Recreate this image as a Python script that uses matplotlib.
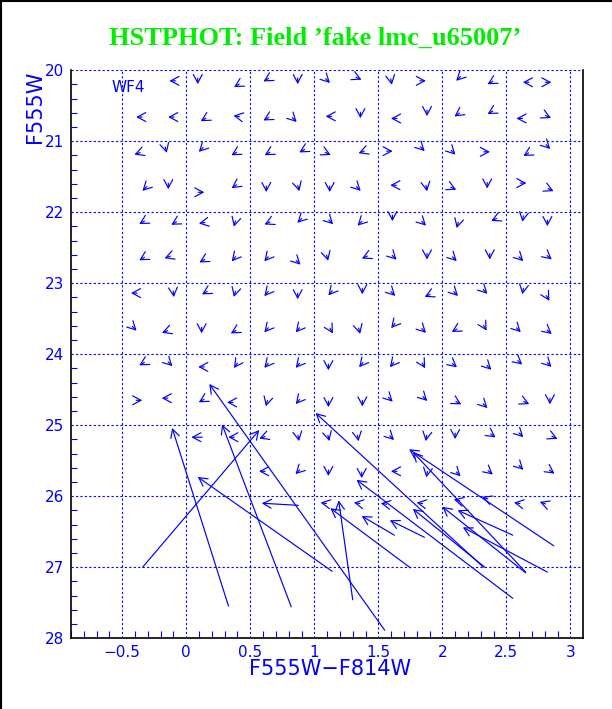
import numpy as np
import matplotlib
matplotlib.use("Agg")
import matplotlib.pyplot as plt
from matplotlib.patches import FancyArrowPatch
from matplotlib.lines import Line2D

BLUE = "#0000ff"
GREEN = "#00ee00"

# small residual vectors: position (colour, magnitude) and screen direction in degrees
small_x = [
    -0.10, 0.09, 0.40, 0.63, 0.87, 1.10, 1.34, 1.60, 1.84, 2.13, 2.38, 2.66, 2.82,
    -0.36, -0.11, 0.14, 0.40, 0.63, 0.84, 1.12, 1.36, 1.63, 1.88, 2.12, 2.38, 2.61, 2.82,
    -0.375, -0.16, 0.12, 0.38, 0.64, 0.91, 1.10, 1.375, 1.58, 1.84, 2.08, 2.34, 2.66, 2.82,
    -0.32, -0.14, 0.11, 0.38, 0.625, 0.875, 1.12, 1.34, 1.625, 1.875, 2.08, 2.35, 2.625, 2.84,
    -0.34, -0.09, 0.13, 0.38, 0.64, 0.89, 1.125, 1.36, 1.61, 1.85, 2.12, 2.41, 2.63, 2.82,
    -0.34, -0.14, 0.13, 0.375, 0.63, 0.87, 1.10, 1.40, 1.62, 1.88, 2.09, 2.37, 2.61, 2.83,
    -0.40, -0.10, 0.15, 0.38, 0.63, 0.87, 1.13, 1.375, 1.61, 1.89, 2.10, 2.33, 2.63, 2.82,
    -0.41, -0.16, 0.12, 0.375, 0.63, 0.875, 1.13, 1.35, 1.62, 1.85, 2.10, 2.33, 2.59, 2.83,
    -0.34, -0.13, 0.125, 0.39, 0.63, 0.875, 1.11, 1.37, 1.61, 1.85, 2.09, 2.36, 2.60, 2.83,
    -0.375, -0.16, 0.125, 0.35, 0.63, 0.875, 1.11, 1.375, 1.59, 1.86, 2.12, 2.33, 2.65, 2.84,
    0.36, 0.60, 0.875, 1.11, 1.34, 1.60, 1.875, 2.10, 2.39, 2.61, 2.87,
    0.60, 0.875, 1.11, 1.37, 1.63, 1.88, 2.12, 2.37, 2.61, 2.85,
    1.08, 1.34, 1.55, 1.83, 2.12, 2.34, 2.59, 2.79,
]
small_y = [
    20.15, 20.14, 20.21, 20.13, 20.14, 20.14, 20.11, 20.15, 20.15, 20.11, 20.17, 20.17, 20.17,
    20.66, 20.66, 20.69, 20.65, 20.68, 20.69, 20.65, 20.62, 20.68, 20.59, 20.62, 20.59, 20.68, 20.65,
    21.17, 21.11, 21.11, 21.17, 21.17, 21.13, 21.17, 21.15, 21.14, 21.10, 21.15, 21.15, 21.18, 21.07,
    21.66, 21.62, 21.72, 21.63, 21.66, 21.65, 21.66, 21.66, 21.62, 21.65, 21.66, 21.61, 21.59, 21.68,
    22.14, 22.15, 22.15, 22.15, 22.15, 22.11, 22.13, 22.15, 22.07, 22.15, 22.17, 22.10, 22.08, 22.14,
    22.65, 22.63, 22.68, 22.65, 22.65, 22.70, 22.63, 22.63, 22.63, 22.61, 22.65, 22.61, 22.65, 22.63,
    23.14, 23.14, 23.13, 23.14, 23.14, 23.17, 23.13, 23.10, 23.14, 23.17, 23.14, 23.11, 23.10, 23.20,
    23.63, 23.68, 23.65, 23.68, 23.65, 23.65, 23.66, 23.66, 23.59, 23.66, 23.66, 23.62, 23.65, 23.68,
    24.13, 24.13, 24.18, 24.15, 24.15, 24.15, 24.17, 24.14, 24.14, 24.15, 24.15, 24.18, 24.11, 24.14,
    24.65, 24.62, 24.65, 24.68, 24.68, 24.66, 24.69, 24.68, 24.63, 24.62, 24.68, 24.72, 24.68, 24.65,
    25.17, 25.17, 25.17, 25.17, 25.17, 25.17, 25.17, 25.14, 25.14, 25.13, 25.17,
    25.65, 25.65, 25.66, 25.69, 25.65, 25.68, 25.68, 25.66, 25.59, 25.65,
    26.10, 26.10, 26.11, 26.10, 26.06, 26.03, 26.10, 26.10,
]
small_dir = [
    180, 270, 210, 210, 270, 315, 335, 280, 0, 225, 210, 180, 0,
    180, 180, 210, 170, 210, 315, 180, 270, 180, 270, 215, 210, 180, 335,
    200, 285, 225, 210, 210, 210, 335, 200, 0, 315, 315, 0, 210, 315,
    225, 270, 0, 215, 270, 285, 270, 315, 180, 280, 335, 270, 0, 335,
    210, 210, 190, 255, 205, 225, 315, 225, 270, 315, 255, 205, 260, 270,
    210, 200, 210, 230, 230, 315, 285, 205, 315, 270, 315, 270, 315, 320,
    180, 275, 210, 255, 230, 270, 230, 270, 315, 205, 315, 315, 260, 300,
    315, 200, 270, 210, 230, 230, 300, 285, 230, 315, 210, 300, 315, 320,
    210, 315, 180, 235, 230, 230, 270, 230, 230, 300, 320, 315, 320, 315,
    0, 180, 210, 180, 255, 230, 270, 270, 315, 315, 330, 315, 335, 270,
    180, 200, 280, 285, 280, 315, 260, 270, 325, 315, 335,
    180, 225, 270, 270, 180, 260, 315, 320, 315, 325,
    170, 170, 170, 170, 165, 160, 170, 160,
]

# large residual vectors: (x0, y0) input star -> (x1, y1) recovered
big_x0 = [0.33, -0.34, 0.82, 1.14, 0.875, 1.55, 1.30, 2.87, 2.65, 2.55, 2.32, 1.75, 2.55, 2.82, 1.625, 1.86, 2.33, 2.65, 0.125]
big_y0 = [27.55, 27.00, 27.56, 27.06, 26.13, 27.89, 27.46, 26.70, 27.07, 27.44, 27.00, 27.01, 26.55, 27.07, 26.55, 26.58, 27.00, 27.08, 25.17]
big_x1 = [-0.11, 0.57, 0.28, 0.09, 0.59, 0.18, 1.19, 1.74, 1.77, 1.33, 1.01, 1.125, 2.12, 2.16, 1.37, 1.59, 1.77, 2.00, 0.04]
big_y1 = [25.04, 25.07, 24.99, 25.73, 26.10, 24.42, 26.06, 25.34, 25.38, 25.77, 24.83, 26.17, 26.20, 26.44, 26.28, 26.34, 26.18, 26.15, 25.17]

x_ticks = [-0.5, 0, 0.5, 1, 1.5, 2, 2.5, 3]
x_tick_labels = ["\u22120.5", "0", "0.5", "1", "1.5", "2", "2.5", "3"]
y_ticks = [20, 21, 22, 23, 24, 25, 26, 27, 28]

fig = plt.figure(figsize=(6.12, 7.09), dpi=100)
ax = fig.add_axes([0.116, 0.100, 0.837, 0.801])
ax.set_xlim(-0.9, 3.1)
ax.set_ylim(28, 20)

# pixel scale of the axes, used to turn screen directions into data offsets
px_x = 128.0
px_y = 71.0

arrow_kw = dict(arrowstyle="->,head_length=0.6,head_width=0.32", color=BLUE,
                lw=0.85, shrinkA=0, shrinkB=0, mutation_scale=10)

for x, y, d in zip(small_x, small_y, small_dir):
    a = np.deg2rad(d)
    ux, uy = np.cos(a) / px_x, -np.sin(a) / px_y
    # head is centred on the point: tip ahead by ~4 px, short 2 px shaft behind it
    tip = (x + 4.0 * ux, y + 4.0 * uy)
    tail = (tip[0] - 6.0 * ux, tip[1] - 6.0 * uy)
    ax.add_patch(FancyArrowPatch(tail, tip, **arrow_kw))

for x0, y0, x1, y1 in zip(big_x0, big_y0, big_x1, big_y1):
    ax.add_patch(FancyArrowPatch((x0, y0), (x1, y1), **arrow_kw))

ax.set_xticks(x_ticks)
ax.set_xticklabels(x_tick_labels)
ax.set_yticks(y_ticks)
ax.set_xticks(np.arange(-0.9, 3.1, 0.1), minor=True)
ax.set_yticks(np.arange(20, 28.01, 0.2), minor=True)
ax.tick_params(which="both", direction="in", colors=BLUE, labelcolor=BLUE,
               top=False, right=False, labelsize=11)
ax.tick_params(which="major", length=0, pad=5)
ax.tick_params(which="minor", length=5, width=0.8)
ax.tick_params(axis="y", which="minor", length=4)

ax.grid(True, which="major", color=BLUE, linestyle=(0, (2, 2)), linewidth=0.8)
ax.spines["top"].set_visible(False)
for side in ["left", "right", "bottom"]:
    ax.spines[side].set_color("black")
    ax.spines[side].set_linewidth(1.2)

ax.set_xlabel("F555W\u2212F814W", color=BLUE, fontsize=15)
ax.xaxis.set_label_coords(0.505, -0.036)
ax.set_ylabel("F555W", color=BLUE, fontsize=15, loc="top")
ax.yaxis.set_label_coords(-0.051, 1.0)
ax.text(-0.58, 20.24, "WF4", color=BLUE, fontsize=11, ha="left", va="center")

fig.text(0.515, 0.946, "HSTPHOT: Field \u2019fake lmc_u65007\u2019", color=GREEN,
         fontsize=19, fontweight="bold", family="Liberation Serif", ha="center", va="center")

fig.add_artist(Line2D([0.002, 0.002], [0, 1], color="black", lw=1.5, transform=fig.transFigure))
fig.add_artist(Line2D([0, 1], [0.998, 0.998], color="black", lw=1.5, transform=fig.transFigure))

fig.savefig("out.png", dpi=100)
